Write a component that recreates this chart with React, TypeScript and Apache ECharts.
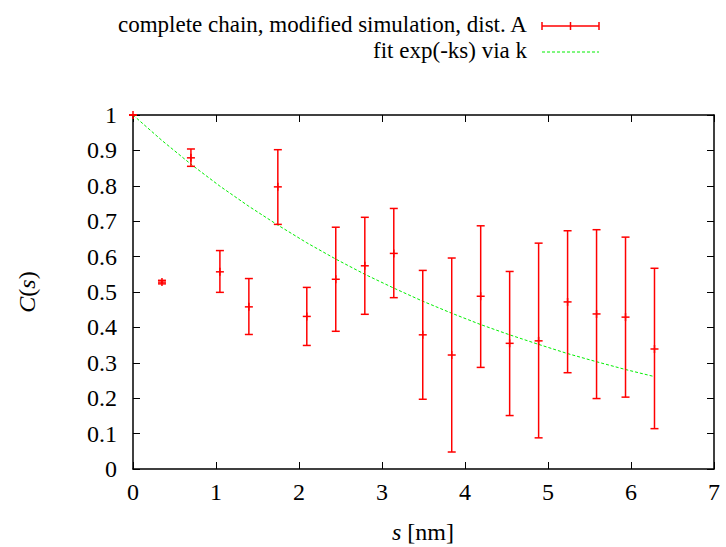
import React, { useEffect, useRef } from "react";
import * as echarts from "echarts";

const sValues = [0, 0.349, 0.698, 1.047, 1.396, 1.745, 2.094, 2.443, 2.793, 3.142, 3.491, 3.84, 4.189, 4.538, 4.887, 5.236, 5.585, 5.934, 6.283];
const cValues = [1, 0.528, 0.879, 0.557, 0.458, 0.797, 0.431, 0.536, 0.574, 0.609, 0.379, 0.322, 0.488, 0.355, 0.362, 0.472, 0.438, 0.429, 0.339];
const cLower = [1, 0.523, 0.855, 0.499, 0.38, 0.691, 0.349, 0.389, 0.437, 0.484, 0.197, 0.048, 0.287, 0.151, 0.088, 0.272, 0.199, 0.203, 0.114];
const cUpper = [1, 0.533, 0.904, 0.617, 0.538, 0.902, 0.513, 0.683, 0.711, 0.736, 0.561, 0.596, 0.687, 0.558, 0.638, 0.673, 0.676, 0.655, 0.567];
const fitValues = [1, 0.928, 0.861, 0.799, 0.742, 0.689, 0.639, 0.593, 0.55, 0.511, 0.474, 0.44, 0.408, 0.379, 0.352, 0.326, 0.303, 0.281, 0.261];

const seriesName1 = "complete chain, modified simulation, dist. A";
const seriesName2 = "fit exp(-ks) via k";

const FONT = "Liberation Serif";
const FS = 23;
const TFS = 24;

export default function App() {
  const ref = useRef<HTMLDivElement>(null);
  useEffect(() => {
    if (!ref.current) return;
    const chart = echarts.init(ref.current, undefined, { renderer: "svg" });
    const errData = sValues.map((s, i) => [s, cLower[i], cUpper[i], cValues[i]]);
    const fitData = sValues.map((s, i) => [s, fitValues[i]]);
    const red = "#ff0000";
    const green = "#00ee00";
    const tickCommon = { show: true, inside: true, length: 7, lineStyle: { color: "#000", width: 1 } };
    const option: any = {
      animation: false,
      grid: { left: 133, right: 12, top: 115, bottom: 78, show: false },
      xAxis: [
        {
          type: "value", min: 0, max: 7, interval: 1, position: "bottom",
          axisLine: { show: true, onZero: false, lineStyle: { color: "#000", width: 1.5 } },
          axisTick: tickCommon,
          splitLine: { show: false },
          axisLabel: { color: "#000", fontFamily: FONT, fontSize: TFS, margin: 11 },
        },
        {
          type: "value", min: 0, max: 7, interval: 1, position: "top",
          axisLine: { show: true, onZero: false, lineStyle: { color: "#000", width: 1.5 } },
          axisTick: tickCommon,
          splitLine: { show: false },
          axisLabel: { show: false },
        },
      ],
      yAxis: [
        {
          type: "value", min: 0, max: 1, interval: 0.1, position: "left",
          axisLine: { show: true, onZero: false, lineStyle: { color: "#000", width: 1.5 } },
          axisTick: tickCommon,
          splitLine: { show: false },
          axisLabel: {
            color: "#000", fontFamily: FONT, fontSize: TFS, margin: 16,
            formatter: (v: number) => (Math.abs(v) < 1e-9 ? "0" : Math.abs(v - 1) < 1e-9 ? "1" : v.toFixed(1)),
          },
        },
        {
          type: "value", min: 0, max: 1, interval: 0.1, position: "right",
          axisLine: { show: true, onZero: false, lineStyle: { color: "#000", width: 1.5 } },
          axisTick: tickCommon,
          splitLine: { show: false },
          axisLabel: { show: false },
        },
      ],
      series: [
        {
          name: seriesName2,
          type: "line",
          xAxisIndex: 0, yAxisIndex: 0,
          data: fitData,
          symbol: "none",
          smooth: false,
          lineStyle: { color: green, width: 1, type: [3, 2] },
          z: 2,
        },
        {
          name: seriesName1,
          type: "custom",
          xAxisIndex: 0, yAxisIndex: 0,
          data: errData,
          z: 3,
          renderItem: (params: any, api: any) => {
            const x = api.value(0);
            const lo = api.coord([x, api.value(1)]);
            const hi = api.coord([x, api.value(2)]);
            const c = api.coord([x, api.value(3)]);
            const w = 4;
            const style = { stroke: red, lineWidth: 1.5, fill: "none" };
            const ln = (x1: number, y1: number, x2: number, y2: number) => ({ type: "line", shape: { x1, y1, x2, y2 }, style });
            return {
              type: "group",
              children: [
                ln(lo[0], lo[1], hi[0], hi[1]),
                ln(lo[0] - w, lo[1], lo[0] + w, lo[1]),
                ln(hi[0] - w, hi[1], hi[0] + w, hi[1]),
                ln(c[0] - w, c[1], c[0] + w, c[1]),
                ln(c[0], c[1] - w, c[0], c[1] + w),
              ],
            };
          },
        },
      ],
      graphic: [
        {
          type: "text", left: 118, top: 13,
          style: { text: seriesName1, fill: "#000", fontFamily: FONT, fontSize: FS },
        },
        {
          type: "text", right: 199, top: 39,
          style: { text: seriesName2, fill: "#000", font: "23px Liberation Serif" },
        },
        { type: "line", shape: { x1: 542, y1: 26, x2: 599, y2: 26 }, style: { stroke: red, lineWidth: 1.5 } },
        { type: "line", shape: { x1: 542, y1: 22, x2: 542, y2: 30 }, style: { stroke: red, lineWidth: 1.5 } },
        { type: "line", shape: { x1: 599, y1: 22, x2: 599, y2: 30 }, style: { stroke: red, lineWidth: 1.5 } },
        { type: "line", shape: { x1: 570.5, y1: 22, x2: 570.5, y2: 30 }, style: { stroke: red, lineWidth: 1.5 } },
        { type: "line", shape: { x1: 542, y1: 52, x2: 599, y2: 52 }, style: { stroke: green, lineWidth: 1, lineDash: [3, 2] } },
        {
          type: "text", x: 423, y: 532,
          style: {
            text: "{i|s} [nm]", fill: "#000", fontFamily: FONT, fontSize: TFS, align: "center", verticalAlign: "middle",
            rich: { i: { fontStyle: "italic", fontFamily: FONT, fontSize: TFS } },
          },
        },
        {
          type: "text", x: 27, y: 292, rotation: Math.PI / 2,
          style: {
            text: "{i|C}({i|s})", fill: "#000", fontFamily: FONT, fontSize: TFS, align: "center", verticalAlign: "middle",
            rich: { i: { fontStyle: "italic", fontFamily: FONT, fontSize: TFS } },
          },
        },
      ],
    };
    chart.setOption(option);
    return () => chart.dispose();
  }, []);
  return <div ref={ref} style={{ position: "absolute", left: 0, top: 0, width: 726, height: 547 }} />;
}
